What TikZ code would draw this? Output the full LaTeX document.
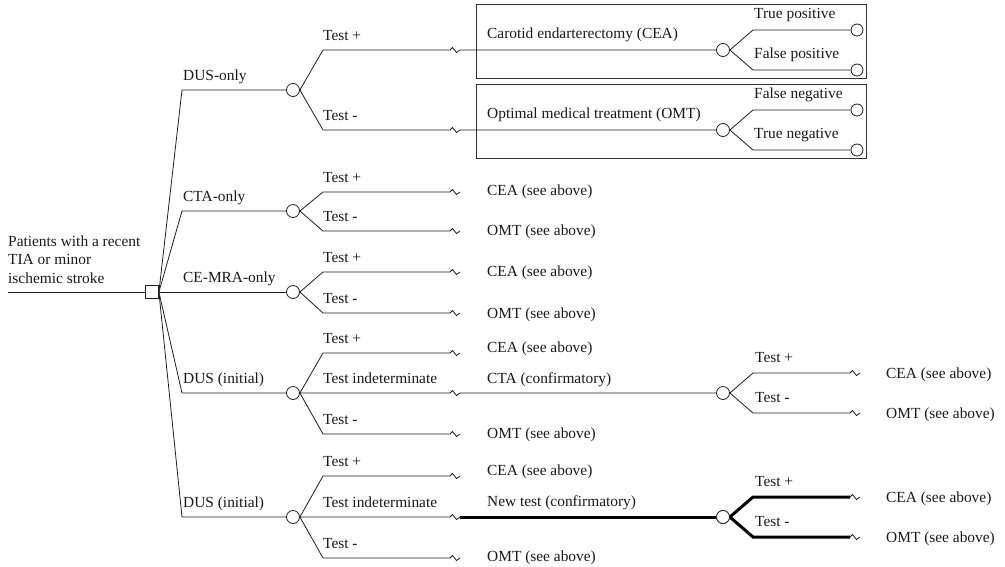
\documentclass[tikz,border=0pt]{standalone}
\usepackage{fontspec}
\setmainfont{Liberation Serif}
\begin{document}
\begin{tikzpicture}[x=1pt,y=-1pt,
  line/.style={draw=black!88, line width=0.8pt},
  heavy/.style={draw=black, line width=3pt},
  chance/.style={circle, draw=black!88, line width=0.8pt, fill=white, minimum size=13pt, inner sep=0pt},
  leaf/.style={circle, draw=black!88, line width=0.8pt, fill=white, minimum size=12pt, inner sep=0pt},
  choice/.style={rectangle, draw=black!88, line width=0.8pt, fill=white, minimum size=13pt, inner sep=0pt},
  lbl/.style={anchor=base west, inner sep=0pt, font=\fontsize{15.4}{18.5}\selectfont, text=black!90},
  zig/.style={insert path={-- ++(2.5,-2.5) -- ++(4,5) -- ++(3.5,-2.5)}},
  panel/.style={draw=black!80, line width=0.8pt}
]
\useasboundingbox (0,0) rectangle (1005,566);

% treatment panels
\draw[panel] (476,4) rectangle (866,78);
\draw[panel] (476,84) rectangle (866,158);

% root decision
\node[choice] (root) at (152,292) {};
\coordinate (start) at (8,292);
\draw[line] (start) -- (root.west);
\node[lbl, anchor=north west, align=left] (pt) at (8,235.5) {Patients with a recent\\TIA or minor\\ischemic stroke};

% first-level strategies
\coordinate (k1) at (182,90);
\coordinate (k2) at (182,211);
\coordinate (k4) at (182,393);
\coordinate (k5) at (182,517);
\node[chance] (d1) at (293,90) {};
\node[chance] (d2) at (293,211) {};
\node[chance] (d3) at (293,292) {};
\node[chance] (d4) at (293,393) {};
\node[chance] (d5) at (293,517) {};
\draw[line] (root.east) -- (k1) -- (d1.west);
\draw[line] (root.east) -- (k2) -- (d2.west);
\draw[line] (root.east) -- (d3.west);
\draw[line] (root.east) -- (k4) -- (d4.west);
\draw[line] (root.east) -- (k5) -- (d5.west);
\node[lbl] (l1) at (183,80) {DUS-only};
\node[lbl] (l2) at (183,201) {CTA-only};
\node[lbl] (l3) at (183,282) {CE-MRA-only};
\node[lbl] (l4) at (183,383) {DUS (initial)};
\node[lbl] (l5) at (183,507) {DUS (initial)};

% DUS-only
\coordinate (k11) at (323,50);  \coordinate (z11) at (450,50);
\coordinate (k12) at (323,130); \coordinate (z12) at (450,130);
\node[chance] (cea) at (723,50) {};
\node[chance] (omt) at (723,130) {};
\draw[line] (d1.east) -- (k11) -- (z11) [zig] -- (cea.west);
\draw[line] (d1.east) -- (k12) -- (z12) [zig] -- (omt.west);
\node[lbl] at (323,40) {Test +};
\node[lbl] at (323,120) {Test -};
\node[lbl] at (487,38) {Carotid endarterectomy (CEA)};
\node[lbl] at (487,118) {Optimal medical treatment (OMT)};

% outcomes
\coordinate (k111) at (753,30);  \coordinate (k112) at (753,70);
\coordinate (k121) at (753,110); \coordinate (k122) at (753,150);
\node[leaf] (tp) at (857,30) {};
\node[leaf] (fp) at (857,70) {};
\node[leaf] (fn) at (857,110) {};
\node[leaf] (tn) at (857,150) {};
\draw[line] (cea.east) -- (k111) -- (tp.west);
\draw[line] (cea.east) -- (k112) -- (fp.west);
\draw[line] (omt.east) -- (k121) -- (fn.west);
\draw[line] (omt.east) -- (k122) -- (tn.west);
\node[lbl] at (754,18) {True positive};
\node[lbl] at (754,58) {False positive};
\node[lbl] at (754,98) {False negative};
\node[lbl] at (754,138) {True negative};

% CTA-only
\coordinate (k21) at (323,192); \coordinate (z21) at (450,192);
\coordinate (k22) at (323,231); \coordinate (z22) at (450,231);
\draw[line] (d2.east) -- (k21) -- (z21) [zig];
\draw[line] (d2.east) -- (k22) -- (z22) [zig];
\node[lbl] at (323,182) {Test +};
\node[lbl] at (323,221) {Test -};
\node[lbl] at (487,195) {CEA (see above)};
\node[lbl] at (487,235) {OMT (see above)};

% CE-MRA-only
\coordinate (k31) at (323,272); \coordinate (z31) at (450,272);
\coordinate (k32) at (323,313); \coordinate (z32) at (450,313);
\draw[line] (d3.east) -- (k31) -- (z31) [zig];
\draw[line] (d3.east) -- (k32) -- (z32) [zig];
\node[lbl] at (323,262) {Test +};
\node[lbl] at (323,303) {Test -};
\node[lbl] at (487,276) {CEA (see above)};
\node[lbl] at (487,318) {OMT (see above)};

% DUS (initial) with CTA confirmation
\coordinate (k41) at (323,353); \coordinate (z41) at (450,353);
\coordinate (z42) at (450,393);
\coordinate (k43) at (323,434); \coordinate (z43) at (450,434);
\node[chance] (cta) at (723,393) {};
\draw[line] (d4.east) -- (k41) -- (z41) [zig];
\draw[line] (d4.east) -- (z42) [zig] -- (cta.west);
\draw[line] (d4.east) -- (k43) -- (z43) [zig];
\node[lbl] at (323,343) {Test +};
\node[lbl] at (323,383) {Test indeterminate};
\node[lbl] at (323,424) {Test -};
\node[lbl] at (487,352) {CEA (see above)};
\node[lbl] at (487,383) {CTA (confirmatory)};
\node[lbl] at (487,438) {OMT (see above)};
\coordinate (k421) at (753,373); \coordinate (z421) at (850,373);
\coordinate (k422) at (753,413); \coordinate (z422) at (850,413);
\draw[line] (cta.east) -- (k421) -- (z421) [zig];
\draw[line] (cta.east) -- (k422) -- (z422) [zig];
\node[lbl] at (755,362) {Test +};
\node[lbl] at (755,402) {Test -};
\node[lbl] at (886,378) {CEA (see above)};
\node[lbl] at (886,418) {OMT (see above)};

% DUS (initial) with a new confirmatory test
\coordinate (k51) at (323,476); \coordinate (z51) at (450,476);
\coordinate (z52) at (450,517);
\coordinate (k53) at (323,558); \coordinate (z53) at (450,558);
\node[chance] (nt) at (723,517) {};
\draw[line] (d5.east) -- (k51) -- (z51) [zig];
\draw[line] (d5.east) -- (z52) [zig] coordinate (z52e);
\draw[heavy] (z52e) -- (nt.west);
\draw[line] (d5.east) -- (k53) -- (z53) [zig];
\node[lbl] at (323,466) {Test +};
\node[lbl] at (323,507) {Test indeterminate};
\node[lbl] at (323,548) {Test -};
\node[lbl] at (487,475) {CEA (see above)};
\node[lbl] at (487,506) {New test (confirmatory)};
\node[lbl] at (487,561) {OMT (see above)};
\coordinate (k521) at (753,497); \coordinate (z521) at (850,497);
\coordinate (k522) at (753,537); \coordinate (z522) at (850,537);
\draw[heavy] (nt.east) -- (k521) -- (z521);
\draw[heavy] (nt.east) -- (k522) -- (z522);
\draw[line] (z521) [zig];
\draw[line] (z522) [zig];
\node[chance] at (nt) {};
\node[lbl] at (755,486) {Test +};
\node[lbl] at (755,526) {Test -};
\node[lbl] at (886,502) {CEA (see above)};
\node[lbl] at (886,542) {OMT (see above)};
\end{tikzpicture}
\end{document}
